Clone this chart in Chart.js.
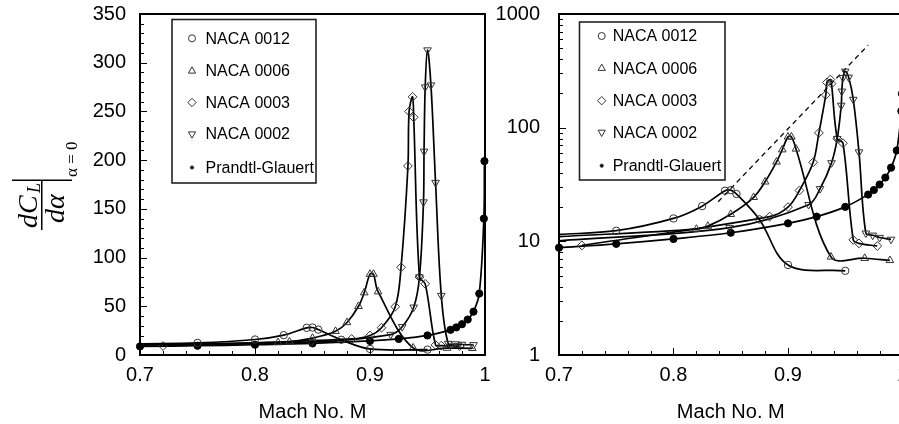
<!DOCTYPE html>
<html><head><meta charset="utf-8">
<script src="https://cdn.jsdelivr.net/npm/chart.js@4.4.1/dist/chart.umd.min.js"></script>
<style>
html,body{margin:0;padding:0;background:#fff;overflow:hidden;width:899px;height:424px;}
#wrapL{position:absolute;left:0;top:0;width:500px;height:424px;}
#wrapR{position:absolute;left:490px;top:0;width:430px;height:424px;}
canvas{display:block;}
</style></head><body>
<div id="wrapL"><canvas id="cL" width="500" height="424"></canvas></div>
<div id="wrapR"><canvas id="cR" width="430" height="424"></canvas></div>
<script>
// ---------- data ----------
const seriesLabels = ['NACA 0012','NACA 0006','NACA 0003','NACA 0002','Prandtl-Glauert'];

const mach0012 = [0.70, 0.75, 0.80, 0.825, 0.845, 0.85, 0.855, 0.875, 0.90, 0.95];
const cl0012   = [11.5, 12.4, 15.9, 20.4, 27.9, 28.2, 26.1, 15.6, 6.2, 5.5];

const mach0006 = [0.70, 0.82, 0.83, 0.85, 0.87, 0.88, 0.89, 0.895, 0.90, 0.903, 0.907, 0.9375, 0.967, 0.989];
const cl0006   = [11.0, 12.8, 13.6, 17.3, 24.4, 33.4, 50, 64, 83, 83, 65, 7.3, 7.1, 6.8];

const mach0003 = [0.72, 0.884, 0.90, 0.91, 0.922, 0.927, 0.933, 0.934, 0.937, 0.938, 0.943, 0.948, 0.957, 0.962, 0.978];
const cl0003   = [9.2, 16.5, 20, 28, 49.6, 90, 194, 250, 265, 244, 80, 73, 10.3, 9.6, 9.1];

const mach0002 = [0.70, 0.849, 0.918, 0.928, 0.938, 0.943, 0.9465, 0.947, 0.948, 0.95, 0.953, 0.957, 0.962, 0.968, 0.974, 0.98, 0.99];
const cl0002   = [10.1, 13.2, 21, 29, 49, 80, 157, 209, 275, 313, 277, 177, 61, 11.8, 11.3, 10.8, 10.4];

const machPG = [0.70, 0.75, 0.80, 0.85, 0.90, 0.925, 0.95, 0.97, 0.975, 0.98, 0.985, 0.99, 0.995, 0.999, 0.9995];
const clPG   = [8.8, 9.5, 10.5, 11.9, 14.4, 16.5, 20.1, 25.8, 28.3, 31.6, 36.4, 44.5, 63, 140, 199];

const machDash = [0.839, 0.97];
const clDash   = [22.3, 532];

const xTickValues = [0.7, 0.8, 0.9, 1.0];
const xTickLabels = ['0.7', '0.8', '0.9', '1'];
const yLinTickValues = [0, 50, 100, 150, 200, 250, 300, 350];
const yLinTickLabels = ['0', '50', '100', '150', '200', '250', '300', '350'];
const yLogTickValues = [1, 10, 100, 1000];
const yLogTickLabels = ['1', '10', '100', '1000'];
const xAxisTitle = 'Mach No. M';

// ---------- styling ----------
const FONT = '"Liberation Sans", Arial, Helvetica, sans-serif';
const styles = [
  {pointStyle:'circle',   rot:0,   r:3.7, filled:false, lead:true,  legendR:3.5},
  {pointStyle:'triangle', rot:0,   r:4.4, filled:false, lead:true,  legendR:4.2},
  {pointStyle:'rectRot',  rot:0,   r:4.4, filled:false, lead:false, legendR:4.2},
  {pointStyle:'triangle', rot:180, r:4.4, filled:false, lead:true,  legendR:4.2},
  {pointStyle:'circle',   rot:0,   r:3.6, filled:true,  lead:false, legendR:1.6}
];
const seriesMach = [mach0012, mach0006, mach0003, mach0002, machPG];
const seriesCL   = [cl0012, cl0006, cl0003, cl0002, clPG];

function pts(ms, vs){ return ms.map((m,i)=>({x:m, y:vs[i]})); }

function makeDatasets(withDash){
  const ds = seriesLabels.map((lab, k) => {
    const s = styles[k];
    return {
      label: lab,
      data: pts(seriesMach[k], seriesCL[k]),
      borderColor: '#000',
      borderWidth: 1.7,
      pointStyle: s.pointStyle,
      rotation: s.rot,
      pointRadius: (c) => (s.lead && c.dataIndex === 0) ? 0 : s.r,
      pointBackgroundColor: s.filled ? '#000' : 'rgba(0,0,0,0)',
      pointBorderColor: s.filled ? '#000' : '#333',
      pointBorderWidth: 1,
      tension: 0.35,
      fill: false,
      clip: 8
    };
  });
  if (withDash) {
    ds.push({
      label: 'peak trend',
      data: pts(machDash, clDash),
      borderColor: '#000',
      borderWidth: 1.3,
      borderDash: [5, 4],
      pointRadius: 0,
      tension: 0,
      fill: false,
      clip: 8
    });
  }
  return ds;
}

// ---------- plugins ----------
const framePlugin = {
  id: 'frameTicks',
  afterDatasetsDraw(chart, args, o) {
    const {ctx, chartArea: a, scales} = chart;
    ctx.save();
    ctx.strokeStyle = '#000';
    ctx.lineWidth = 1;
    ctx.beginPath();
    for (let i = 0; i <= 15; i++) {
      const m = 0.7 + i * 0.02;
      const x = Math.round(scales.x.getPixelForValue(m)) + 0.5;
      const len = (i % 5 === 0) ? 7 : 4;
      ctx.moveTo(x, a.bottom); ctx.lineTo(x, a.bottom - len);
    }
    if (o.log) {
      for (let d = 1; d < 1000; d *= 10) {
        for (let k = 1; k <= 10; k++) {
          const y = Math.round(scales.y.getPixelForValue(d * k)) + 0.5;
          const len = (k === 1 || k === 10) ? 7 : 4;
          ctx.moveTo(a.left, y); ctx.lineTo(a.left + len, y);
        }
      }
    } else {
      for (let v = 0; v <= 350; v += 10) {
        const y = Math.round(scales.y.getPixelForValue(v)) + 0.5;
        const len = (v % 50 === 0) ? 7 : 4;
        ctx.moveTo(a.left, y); ctx.lineTo(a.left + len, y);
      }
    }
    ctx.stroke();
    ctx.lineWidth = 2;
    ctx.strokeRect(a.left, a.top, a.right - a.left, a.bottom - a.top);
    ctx.restore();
  }
};

const boxLegend = {
  id: 'boxLegend',
  afterDraw(chart, args, o) {
    const ctx = chart.ctx;
    ctx.save();
    ctx.fillStyle = '#fff';
    ctx.fillRect(o.x0, o.y0, o.x1 - o.x0, o.y1 - o.y0);
    ctx.strokeStyle = '#222';
    ctx.lineWidth = 1.6;
    ctx.strokeRect(o.x0, o.y0, o.x1 - o.x0, o.y1 - o.y0);
    seriesLabels.forEach((lab, i) => {
      const s = styles[i];
      const y = o.rows[i];
      ctx.lineWidth = 1;
      ctx.strokeStyle = '#333';
      ctx.fillStyle = s.filled ? '#000' : 'rgba(0,0,0,0)';
      Chart.helpers.drawPoint(ctx, {pointStyle: s.pointStyle, rotation: s.rot, radius: s.legendR, borderWidth: 1}, o.mx, y);
      ctx.fillStyle = '#000';
      ctx.font = '16px ' + FONT;
      ctx.textBaseline = 'middle';
      ctx.textAlign = 'left';
      ctx.fillText(lab, o.tx, y + 1);
    });
    ctx.restore();
  }
};

const mathTitle = {
  id: 'mathTitle',
  afterDraw(chart) {
    const ctx = chart.ctx;
    ctx.save();
    ctx.translate(0, 230);
    ctx.rotate(-Math.PI / 2);
    ctx.fillStyle = '#000';
    ctx.textBaseline = 'alphabetic';
    ctx.textAlign = 'left';
    ctx.font = 'italic 28px "Liberation Serif", "Times New Roman", serif';
    ctx.fillText('dC', 2, 37);
    ctx.font = 'italic 18px "Liberation Serif", "Times New Roman", serif';
    ctx.fillText('L', 37, 40);
    ctx.fillRect(0, 41, 49, 1.5);
    ctx.font = 'italic 28px "Liberation Serif", "Times New Roman", serif';
    ctx.fillText('dα', 7, 64);
    ctx.fillRect(49, 12, 1.5, 60);
    ctx.font = '17px "Liberation Serif", "Times New Roman", serif';
    ctx.fillText('α = 0', 53, 77);
    ctx.restore();
  }
};

function xScale() {
  return {
    type: 'linear', min: 0.7, max: 1.0,
    grid: {display: false, drawTicks: false},
    border: {display: false},
    afterBuildTicks: (ax) => { ax.ticks = xTickValues.map(v => ({value: v})); },
    afterFit: (ax) => { ax.height = 69; ax.paddingLeft = 0; ax.paddingRight = 0; },
    ticks: {
      padding: 8, color: '#000', font: {family: FONT, size: 20},
      callback: (v, i) => xTickLabels[i]
    },
    title: {display: true, text: xAxisTitle, color: '#000', font: {family: FONT, size: 20}, padding: {top: 0, bottom: 0}}
  };
}

function yFit(w) {
  return (ax) => { ax.width = w; ax.paddingTop = 0; ax.paddingBottom = 0; };
}

new Chart(document.getElementById('cL'), {
  type: 'line',
  data: {datasets: makeDatasets(false)},
  options: {
    responsive: false, animation: false, events: [],
    layout: {padding: {left: 0, right: 15, top: 14, bottom: 0}},
    plugins: {
      legend: {display: false}, tooltip: {enabled: false},
      frameTicks: {log: false},
      boxLegend: {x0: 172, y0: 19.5, x1: 316, y1: 183, mx: 192, tx: 205.5, rows: [38.3, 71, 102.5, 134, 167.5]}
    },
    scales: {
      x: xScale(),
      y: {
        type: 'linear', min: 0, max: 350,
        grid: {display: false, drawTicks: false},
        border: {display: false},
        afterBuildTicks: (ax) => { ax.ticks = yLinTickValues.map(v => ({value: v})); },
        afterFit: yFit(140),
        ticks: {padding: 14, color: '#000', font: {family: FONT, size: 20}, callback: (v, i) => yLinTickLabels[i]}
      }
    }
  },
  plugins: [framePlugin, boxLegend, mathTitle]
});

new Chart(document.getElementById('cR'), {
  type: 'line',
  data: {datasets: makeDatasets(true)},
  options: {
    responsive: false, animation: false, events: [],
    layout: {padding: {left: 0, right: 17.5, top: 14, bottom: 0}},
    plugins: {
      legend: {display: false}, tooltip: {enabled: false},
      frameTicks: {log: true},
      boxLegend: {x0: 89.5, y0: 22, x1: 235, y1: 180, mx: 111.7, tx: 122.7, rows: [36, 68.3, 100.7, 132.3, 165.7]}
    },
    scales: {
      x: xScale(),
      y: {
        type: 'logarithmic', min: 1, max: 1000,
        grid: {display: false, drawTicks: false},
        border: {display: false},
        afterBuildTicks: (ax) => { ax.ticks = yLogTickValues.map(v => ({value: v})); },
        afterFit: yFit(69),
        ticks: {padding: 19, color: '#000', font: {family: FONT, size: 20}, callback: (v, i) => yLogTickLabels[i]}
      }
    }
  },
  plugins: [framePlugin, boxLegend]
});
</script>
</body></html>
